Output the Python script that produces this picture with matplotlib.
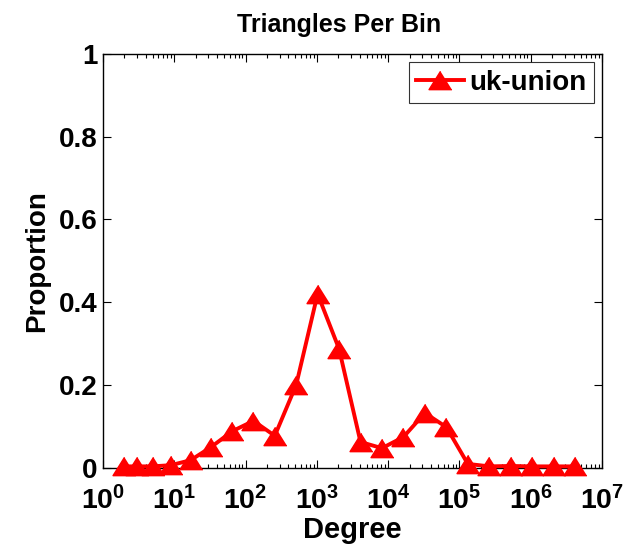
import math
import matplotlib
matplotlib.use("Agg")
import matplotlib.pyplot as plt
from matplotlib.ticker import FixedLocator, FuncFormatter, LogLocator, NullFormatter

plt.rcParams['font.family'] = ['Liberation Sans', 'DejaVu Sans']
plt.rcParams['font.weight'] = 'bold'
plt.rcParams['mathtext.fontset'] = 'custom'
plt.rcParams['mathtext.rm'] = 'Liberation Sans:bold'
plt.rcParams['mathtext.bf'] = 'Liberation Sans:bold'

# Degree bins (2^k + 1) and the share of triangles in each bin
degree = [2, 3, 5, 9, 17, 33, 65, 129, 257, 513, 1025, 2049, 4097, 8193,
          16385, 32769, 65537, 131073, 262145, 524289, 1048577, 2097153, 4194305]
proportion = [0.003, 0.003, 0.003, 0.006, 0.018, 0.05, 0.088, 0.113, 0.077,
              0.200, 0.420, 0.287, 0.062, 0.047, 0.074, 0.132, 0.098,
              0.009, 0.003, 0.004, 0.003, 0.003, 0.003]
series_name = 'uk-union'
y_ticks = [0, 0.2, 0.4, 0.6, 0.8, 1]
y_tick_labels = ['0', '0.2', '0.4', '0.6', '0.8', '1']

fig = plt.figure(figsize=(6.23, 5.44), dpi=100)
ax = fig.add_axes([0.1653, 0.1404, 0.8010, 0.7602])

tri = [(0, 0.8), (-1, -0.8), (1, -0.8)]
ax.plot(degree, proportion, color='#ff0000', linewidth=2.8, marker=tri,
        markersize=16.5, markerfacecolor='#ff0000', markeredgecolor='#ff0000',
        label=series_name, clip_on=False, zorder=3)

ax.set_xscale('log')
ax.set_xlim(1, 1e7)
ax.set_ylim(0, 1)
ax.xaxis.set_major_locator(FixedLocator([10.0 ** k for k in range(8)]))
ax.xaxis.set_major_formatter(FuncFormatter(
    lambda v, p: r'$\mathbf{10^{%d}}$' % round(math.log10(v))))
ax.xaxis.set_minor_locator(LogLocator(base=10, subs=range(2, 10), numticks=100))
ax.xaxis.set_minor_formatter(NullFormatter())
ax.set_yticks(y_ticks)
ax.set_yticklabels(y_tick_labels)

ax.tick_params(which='both', direction='in', top=True, right=True, width=0.8)
ax.tick_params(which='major', length=6)
ax.tick_params(which='minor', length=3)
ax.tick_params(axis='y', labelsize=20, pad=4)
ax.tick_params(axis='x', labelsize=20.5, pad=13)
for s in ax.spines.values():
    s.set_linewidth(1.0)

ax.set_title('Triangles Per Bin', fontsize=18, fontweight='bold', pad=16, x=0.474)
ax.set_xlabel('Degree', fontsize=21, fontweight='bold')
ax.xaxis.set_label_coords(0.5, -0.116)
ax.set_ylabel('Proportion', fontsize=20, fontweight='bold', labelpad=6)

leg = ax.legend(loc='upper right', fontsize=20, frameon=True, fancybox=False,
                borderpad=0.28, borderaxespad=0.28, handlelength=1.7,
                handletextpad=0.2, markerscale=1.0)
leg.get_frame().set_edgecolor('black')
leg.get_frame().set_linewidth(0.8)

fig.savefig('out.png', dpi=100)
